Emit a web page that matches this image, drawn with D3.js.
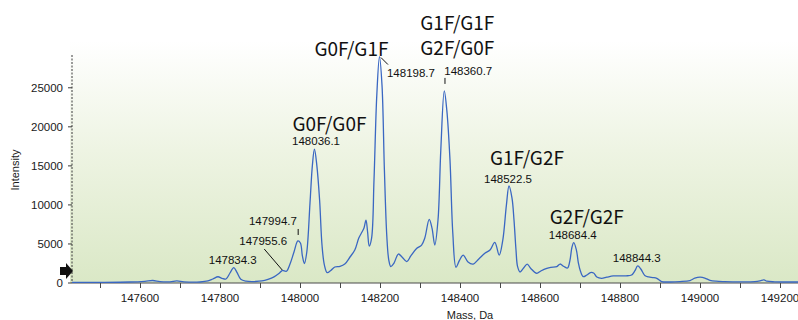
<!DOCTYPE html>
<html>
<head>
<meta charset="utf-8">
<script src="https://cdn.jsdelivr.net/npm/d3@7"></script>
<style>
  html, body { margin: 0; padding: 0; background: #ffffff; }
  svg { display: block; }
</style>
</head>
<body>
<svg id="chart" width="798" height="320"></svg>
<script>
// Deconvoluted intact-mass spectrum (mass in Da, intensity in counts)
const spectrumMass = [
  147430, 147500, 147575, 147612, 147632, 147650, 147675, 147692, 147710, 147750,
  147770, 147782, 147795, 147805, 147815, 147825, 147834.3, 147842, 147852, 147865,
  147888, 147905, 147920, 147935, 147948, 147955.6, 147966, 147975, 147985, 147994.7,
  148001, 148006, 148011, 148017, 148025, 148031, 148036.1, 148042, 148049, 148055,
  148061, 148068, 148077, 148087, 148100, 148112, 148125, 148137, 148147, 148155,
  148160, 148165, 148169, 148173, 148179, 148185, 148192, 148198.7, 148205, 148211,
  148217, 148222, 148227, 148235, 148246, 148255, 148267, 148277, 148292, 148304,
  148312, 148323, 148330, 148337, 148345, 148352, 148360.7, 148367, 148375, 148382,
  148390, 148399, 148408, 148420, 148433, 148447, 148462, 148475, 148487, 148498,
  148507, 148516, 148522.5, 148530, 148535, 148540, 148544, 148550, 148559, 148568,
  148577, 148592, 148602, 148617, 148627, 148642, 148650, 148660, 148669, 148675,
  148680, 148684.4, 148691, 148696, 148701, 148708, 148717, 148726, 148734, 148742,
  148754, 148767, 148783, 148800, 148815, 148829, 148837, 148844.3, 148852, 148862,
  148872, 148882, 148892, 148904, 148925, 148950, 148975, 148987, 149000, 149012,
  149025, 149040, 149062, 149100, 149137, 149150, 149160, 149167, 149187, 149225,
  149245
];
const spectrumIntensity = [
  90, 90, 130, 220, 320, 180, 150, 260, 150, 130,
  260, 510, 800, 600, 510, 1280, 1980, 1400, 470, 230,
  190, 260, 470, 790, 1250, 1600, 1510, 2430, 3970, 5380,
  5120, 3460, 2500, 3970, 10240, 15100, 17150, 15100, 10620, 4860,
  2300, 1320, 1600, 2050, 2140, 2430, 3330, 4220, 5760, 6530,
  7040, 8060, 6530, 4740, 5760, 13180, 24060, 29000, 25340, 14460,
  6020, 2940, 2110, 2560, 3710, 3330, 2730, 3460, 4440, 4860,
  5760, 8150, 7040, 4860, 8060, 17020, 24600, 22140, 15740, 6400,
  2010, 2940, 3580, 2690, 2430, 3070, 3800, 4220, 5210, 3580,
  5500, 9980, 12420, 10880, 8060, 4220, 2090, 1410, 1920, 2430,
  1860, 1240, 1540, 1880, 2010, 2090, 2430, 2110, 1920, 2940,
  4610, 5160, 4220, 2560, 1540, 810, 1020, 1340, 1280, 770,
  600, 740, 900, 900, 920, 1020, 1540, 2180, 1790, 960,
  770, 700, 600, 190, 130, 180, 320, 610, 740, 640,
  350, 230, 180, 150, 180, 280, 410, 230, 150, 130,
  130
];

// Labelled peak masses
const peakMasses = [147834.3, 147955.6, 147994.7, 148036.1, 148198.7, 148360.7, 148522.5, 148684.4, 148844.3];

// Glycoform assignments and the peak each belongs to
const glycoformNames = [["G0F/G0F"], ["G0F/G1F"], ["G1F/G1F", "G2F/G0F"], ["G1F/G2F"], ["G2F/G2F"]];
const glycoformPeaks = [148036.1, 148198.7, 148360.7, 148522.5, 148684.4];

// Axis ticks
const massTicks = [147600, 147800, 148000, 148200, 148400, 148600, 148800, 149000, 149200];
const massMinorTicks = d3.range(147500, 149250, 100);
const intensityTicks = [0, 5000, 10000, 15000, 20000, 25000];

const svg = d3.select("#chart");
const plot = { left: 72, right: 798, top: 55, bottom: 283 };

const x = d3.scaleLinear().domain([147430, 149245]).range([plot.left, plot.right]);
const y = d3.scaleLinear().domain([0, 29200]).range([plot.bottom, plot.top]);

// Plot background: white fading into pale green
const defs = svg.append("defs");
const grad = defs.append("linearGradient").attr("id", "bg").attr("x1", 0).attr("y1", 0).attr("x2", 0).attr("y2", 1);
grad.append("stop").attr("offset", "0%").attr("stop-color", "#ffffff");
grad.append("stop").attr("offset", "45%").attr("stop-color", "#eef4e3");
grad.append("stop").attr("offset", "100%").attr("stop-color", "#dae8c6");
svg.append("rect")
  .attr("x", 70).attr("y", 41)
  .attr("width", 798 - 70).attr("height", plot.bottom - 41)
  .attr("fill", "url(#bg)");

const axisFont = "'Liberation Sans', Arial, sans-serif";

// X axis
const xAxisG = svg.append("g").attr("transform", `translate(0,${plot.bottom})`);
xAxisG.append("line")
  .attr("x1", plot.left).attr("x2", plot.right)
  .attr("stroke", "#4a4a4a").attr("stroke-width", 1);
xAxisG.selectAll("line.minor").data(massMinorTicks).join("line")
  .attr("class", "minor")
  .attr("x1", d => Math.round(x(d)) + 0.5).attr("x2", d => Math.round(x(d)) + 0.5)
  .attr("y1", 0).attr("y2", 5)
  .attr("stroke", "#4a4a4a");
xAxisG.selectAll("text").data(massTicks).join("text")
  .attr("x", d => x(d)).attr("y", 19)
  .attr("text-anchor", "middle")
  .attr("font-family", axisFont).attr("font-size", 11.5)
  .attr("fill", "#1a1a1a")
  .text(d => d);

// Y axis
const yAxisG = svg.append("g").attr("transform", `translate(${plot.left},0)`);
yAxisG.append("line")
  .attr("y1", plot.top).attr("y2", plot.bottom)
  .attr("stroke", "#3a3a3a").attr("stroke-width", 1)
  .attr("stroke-dasharray", "2,1.5");
yAxisG.selectAll("line.tick").data(intensityTicks).join("line")
  .attr("class", "tick")
  .attr("x1", -4).attr("x2", 0)
  .attr("y1", d => y(d)).attr("y2", d => y(d))
  .attr("stroke", "#3a3a3a");
yAxisG.selectAll("text").data(intensityTicks).join("text")
  .attr("x", -9).attr("y", d => y(d))
  .attr("dy", "0.36em")
  .attr("text-anchor", "end")
  .attr("font-family", axisFont).attr("font-size", 11.5)
  .attr("fill", "#1a1a1a")
  .text(d => d);

// Axis titles
svg.append("text")
  .attr("transform", "translate(19,170) rotate(-90)")
  .attr("text-anchor", "middle")
  .attr("font-family", axisFont).attr("font-size", 11)
  .attr("fill", "#1a1a1a")
  .text("Intensity");
svg.append("text")
  .attr("x", 470).attr("y", 319)
  .attr("text-anchor", "middle")
  .attr("font-family", axisFont).attr("font-size", 11)
  .attr("fill", "#1a1a1a")
  .text("Mass, Da");

// Threshold marker on the intensity axis
svg.append("path")
  .attr("d", "M60,267 h6 v-4 l7,8 l-7,8 v-4 h-6 z")
  .attr("fill", "#111");

// Spectrum trace
const points = spectrumMass.map((m, i) => [m, spectrumIntensity[i]]);
const line = d3.line()
  .x(d => x(d[0]))
  .y(d => y(d[1]))
  .curve(d3.curveCatmullRom.alpha(0.5));
svg.append("path")
  .datum(points)
  .attr("d", line)
  .attr("fill", "none")
  .attr("stroke", "#3a67c2")
  .attr("stroke-width", 1.3)
  .attr("stroke-linejoin", "round");

const intensityAt = m => spectrumIntensity[spectrumMass.indexOf(m)];

// Mass labels: text placement and optional leader relative to the peak apex
const massLabelLayout = [
  { anchor: "middle", dx: -1, dy: -3.5 },
  { anchor: "middle", dx: -19, dy: -25.5, leader: [-18, -21.5, 0, -0.5] },
  { anchor: "end", dx: -1, dy: -16, leader: [0.3, -12, 0.3, -6] },
  { anchor: "middle", dx: 1.6, dy: -4 },
  { anchor: "start", dx: 7.5, dy: 20, leader: [1.5, 1, 8.5, 8] },
  { anchor: "start", dx: 0, dy: -16, leader: [0.7, -13, 0.7, -7] },
  { anchor: "middle", dx: -1, dy: -3 },
  { anchor: "middle", dx: -1, dy: -4 },
  { anchor: "middle", dx: -1, dy: -4 }
];

const labelG = svg.append("g");
peakMasses.forEach((m, i) => {
  const px = x(m), py = y(intensityAt(m));
  const lay = massLabelLayout[i];
  labelG.append("text")
    .attr("x", px + lay.dx).attr("y", py + lay.dy)
    .attr("text-anchor", lay.anchor)
    .attr("font-family", axisFont).attr("font-size", 11.5)
    .attr("fill", "#111")
    .text(m.toFixed(1));
  if (lay.leader) {
    labelG.append("line")
      .attr("x1", px + lay.leader[0]).attr("y1", py + lay.leader[1])
      .attr("x2", px + lay.leader[2]).attr("y2", py + lay.leader[3])
      .attr("stroke", "#111").attr("stroke-width", 1);
  }
});

// Glycoform names placed relative to their peak apex
const glycoformLayout = [[15, -18], [-28, -1], [13, -36], [18, -21], [13, -18.5]];
glycoformNames.forEach((names, i) => {
  const m = glycoformPeaks[i];
  const px = x(m), py = y(intensityAt(m));
  const [dx, dy] = glycoformLayout[i];
  const t = labelG.append("text")
    .attr("text-anchor", "middle")
    .attr("font-family", "'Noto Sans CJK SC', 'Noto Sans', sans-serif")
    .attr("font-size", 19)
    .attr("fill", "#111");
  names.forEach((n, j) => {
    t.append("tspan")
      .attr("x", px + dx)
      .attr("y", py + dy - (names.length - 1 - j) * 25)
      .text(n);
  });
});
</script>
</body>
</html>
